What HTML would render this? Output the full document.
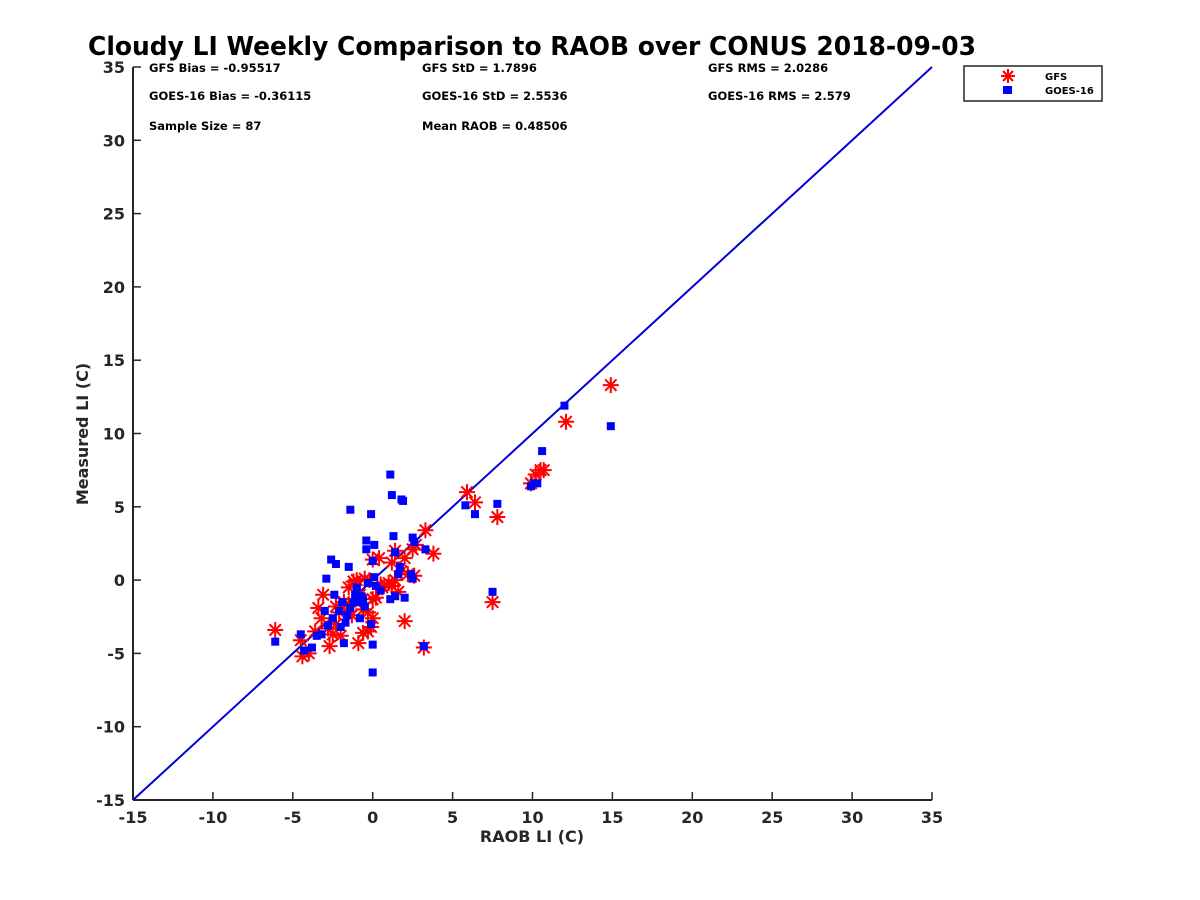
<!DOCTYPE html>
<html><head><meta charset="utf-8"><style>
body{margin:0;background:#fff;}
svg{display:block;font-family:"DejaVu Sans","Liberation Sans",sans-serif;font-weight:bold;}
</style></head><body>
<svg id="chart" width="1200" height="900" xmlns="http://www.w3.org/2000/svg">
<rect width="1200" height="900" fill="#fff"/>
<text x="532" y="55" text-anchor="middle" font-size="25.5" textLength="888" lengthAdjust="spacingAndGlyphs" fill="#000">Cloudy LI Weekly Comparison to RAOB over CONUS 2018-09-03</text>
<g font-size="11.5" fill="#000">
<text x="149" y="72">GFS Bias = -0.95517</text>
<text x="149" y="100">GOES-16 Bias = -0.36115</text>
<text x="149" y="130">Sample Size = 87</text>
<text x="422" y="72">GFS StD = 1.7896</text>
<text x="422" y="100">GOES-16 StD = 2.5536</text>
<text x="422" y="130">Mean RAOB = 0.48506</text>
<text x="708" y="72">GFS RMS = 2.0286</text>
<text x="708" y="100">GOES-16 RMS = 2.579</text>
</g>
<g id="axes"></g>
<g id="marks"></g>
<text x="532" y="842" text-anchor="middle" font-size="16" fill="#262626">RAOB LI (C)</text>
<text transform="translate(88,434) rotate(-90)" text-anchor="middle" font-size="16" fill="#262626">Measured LI (C)</text>
<g>
<rect x="964" y="66" width="138" height="35" fill="#fff" stroke="#262626" stroke-width="1.5"/>
<g stroke="red" stroke-width="2"><line x1="1008" y1="69" x2="1008" y2="83"/><line x1="1001" y1="76" x2="1015" y2="76"/><line x1="1003" y1="71" x2="1013" y2="81"/><line x1="1003" y1="81" x2="1013" y2="71"/></g>
<rect x="1003" y="86" width="9" height="8" fill="blue"/>
<text x="1045" y="80" font-size="10">GFS</text>
<text x="1045" y="94" font-size="10">GOES-16</text>
</g>
</svg>
<script>
const xTicks=[-15,-10,-5,0,5,10,15,20,25,30,35];
const yTicks=[-15,-10,-5,0,5,10,15,20,25,30,35];
const gfsX=[-6.1,-4.4,-4,-4.5,-3.6,-3.2,-3.4,-3.1,-2.7,-2.5,-2.3,-2,-2.1,-1.8,-1.5,-1.2,-1,-0.8,-0.6,-0.9,-0.6,-0.3,-0.1,0,0,0.2,-0.2,0,0.4,0.6,1,1.2,1.4,1.6,1.2,1.4,1.8,2,2.2,2.5,2.7,2.6,2,3.3,3.8,3.2,5.9,6.4,7.5,7.8,9.9,10.2,10.5,10.7,12.1,14.9,-2.8,-1.3,-0.3,-2.3,-1.5,0.5,-0.5];
const gfsY=[-3.4,-5.2,-5,-4.1,-3.5,-2.6,-1.9,-1,-4.5,-3.7,-3,-3.8,-2.2,-1.5,-0.5,-0.1,0,-1,-2,-4.3,-3.6,-3.5,-3.2,-2.6,-1.3,-1.2,0,1.4,1.5,-0.5,-0.2,-0.4,0,-0.8,1.2,2,0.6,1.5,0.4,2.1,2.4,0.3,-2.8,3.4,1.8,-4.6,6,5.3,-1.5,4.3,6.6,7.2,7.5,7.5,10.8,13.3,-3.3,-2.4,-2.2,-1.8,-1.8,-0.3,0.1];
const goesX=[-6.1,-4.5,-4.3,-3.8,-3.5,-3.2,-3,-2.8,-2.9,-2.6,-2.3,-2.4,-2.1,-2,-1.8,-1.6,-1.4,-1.5,-1.4,-1.1,-0.9,-0.8,-0.5,-0.4,-0.4,-0.1,0.1,0,0.1,0.2,-0.1,0,0,1.1,1.2,1.8,1.9,1.3,1.4,1.7,1.6,2,1.4,1.1,2.5,2.6,2.5,3.3,3.2,5.8,6.4,7.5,7.8,9.9,10.1,10.3,10.6,12,14.9,-1.2,-0.7,-1.9,0.5,-0.3,-1,-2.5,-1.7,-0.6,2.4];
const goesY=[-4.2,-3.7,-4.8,-4.6,-3.8,-3.7,-2.1,-3.1,0.1,1.4,1.1,-1,-2.1,-3.2,-4.3,-2.4,-1.9,0.9,4.8,-1,-1.5,-2.6,-1.8,2.1,2.7,4.5,2.4,1.3,0.2,-0.4,-3,-4.4,-6.3,7.2,5.8,5.5,5.4,3,1.9,0.9,0.4,-1.2,-1.1,-1.3,2.9,2.6,0.1,2.1,-4.5,5.1,4.5,-0.8,5.2,6.4,6.6,6.6,8.8,11.9,10.5,-1.5,-1.1,-1.5,-0.7,-0.2,-0.5,-2.6,-2.9,-1.3,0.4];
const X0=133,X1=932,Y0=800,Y1=67;
const sx=v=>X0+(v+15)/50*(X1-X0);
const sy=v=>Y0-(v+15)/50*(Y0-Y1);
const NS='http://www.w3.org/2000/svg';
function mk(t,a,p){const e=document.createElementNS(NS,t);for(const k in a)e.setAttribute(k,a[k]);p.appendChild(e);return e;}
const ax=document.getElementById('axes'),mg=document.getElementById('marks');
const xl=mk('line',{x1:X0,y1:Y0,x2:X1,y2:Y0,stroke:'#262626','stroke-width':2},ax);


const yl=mk('line',{x1:X0,y1:Y0,x2:X0,y2:Y1,stroke:'#262626','stroke-width':2},ax);


xTicks.forEach(t=>{mk('line',{x1:sx(t),y1:Y0,x2:sx(t),y2:Y0-8,stroke:'#262626','stroke-width':1.5},ax);
const tx=mk('text',{x:sx(t),y:Y0+23,'text-anchor':'middle','font-size':16,fill:'#262626'},ax);tx.textContent=t;

});
yTicks.forEach(t=>{mk('line',{x1:X0,y1:sy(t),x2:X0+8,y2:sy(t),stroke:'#262626','stroke-width':1.5},ax);
const tx=mk('text',{x:X0-8,y:sy(t)+6,'text-anchor':'end','font-size':16,fill:'#262626'},ax);tx.textContent=t;

});
const ref=mk('line',{x1:sx(-15),y1:sy(-15),x2:sx(35),y2:sy(35),stroke:'#0000dd','stroke-width':2},mg);


gfsX.forEach((v,i)=>{const cx=sx(v),cy=sy(gfsY[i]),r=8,d=5.7;
const g=mk('g',{stroke:'red','stroke-width':2},mg);


mk('line',{x1:cx,y1:cy-r,x2:cx,y2:cy+r},g);mk('line',{x1:cx-r,y1:cy,x2:cx+r,y2:cy},g);
mk('line',{x1:cx-d,y1:cy-d,x2:cx+d,y2:cy+d},g);mk('line',{x1:cx-d,y1:cy+d,x2:cx+d,y2:cy-d},g);});
goesX.forEach((v,i)=>{const r=mk('rect',{x:sx(v)-4,y:sy(goesY[i])-4,width:8,height:8,fill:'blue'},mg);

});
</script>
</body></html>
